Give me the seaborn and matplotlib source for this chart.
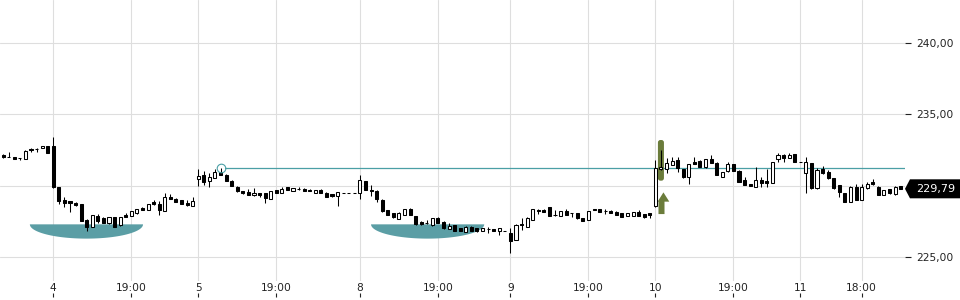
import numpy as np
import pandas as pd
import matplotlib
matplotlib.use("Agg")
import matplotlib.pyplot as plt
import seaborn as sns
from matplotlib.patches import Polygon, FancyBboxPatch

# ---------------- data ----------------
opens = [
    232.18, 232.03, 232.00, 231.93, 231.90, 232.60, 232.55, 232.65, 232.79, 232.79,
    229.90, 229.00, 228.91, 228.82, 228.72, 227.60, 227.13, 227.88, 227.74, 227.37,
    227.79, 227.23, 227.97, 227.88, 228.07, 228.44, 228.30, 228.86, 228.72, 228.25,
    229.24, 229.10, 229.00, 228.82, 228.58, 230.46, 230.74, 230.36, 230.55, 230.97,
    230.78, 230.36, 229.94, 229.61, 229.57, 229.33, 229.47, 229.47, 229.10, 229.71,
    229.52, 229.90, 229.66, 229.79, 229.80, 229.73, 229.52, 229.71, 229.52, 229.43,
    229.29, 229.52, 229.52, 229.52, 229.47, 230.32, 229.70, 229.66, 229.00, 228.30,
    228.07, 227.69, 227.95, 228.40, 227.88, 227.46, 227.37, 227.23, 227.72, 227.48,
    226.99, 227.23, 227.02, 226.78, 227.13, 227.04, 226.83, 226.96, 226.97, 226.81,
    226.85, 226.71, 226.22, 227.33, 227.13, 227.60, 228.28, 228.30, 228.49, 227.98,
    227.88, 228.25, 228.07, 228.07, 227.72, 227.60, 228.37, 228.35, 228.24, 228.25,
    228.18, 228.07, 227.88, 227.88, 228.18, 228.00, 228.07, 228.60, 231.16, 231.20,
    231.48, 231.81, 231.16, 230.60, 231.69, 231.76, 231.30, 231.90, 231.62, 230.64,
    231.02, 231.53, 231.06, 230.41, 230.13, 229.94, 230.41, 230.36, 230.22, 231.86,
    232.16, 231.95, 232.23, 231.70, 230.88, 231.58, 229.82, 231.18, 230.99, 230.53,
    230.06, 229.47, 228.89, 229.94, 229.00, 229.82, 230.24, 229.94, 229.36, 229.78,
    229.40, 230.00,
]
highs = [
    232.25, 232.39, 232.02, 231.95, 232.50, 232.62, 232.65, 232.80, 232.80, 233.44,
    229.90, 229.24, 228.95, 228.85, 228.75, 227.70, 227.95, 228.00, 227.80, 227.80,
    227.80, 227.80, 228.11, 228.22, 228.40, 228.50, 228.75, 229.00, 228.91, 229.52,
    229.43, 229.12, 229.02, 229.00, 229.24, 231.16, 231.06, 230.92, 231.16, 231.22,
    230.80, 230.38, 230.00, 229.62, 229.75, 229.85, 229.50, 229.50, 229.63, 229.73,
    229.90, 229.92, 229.87, 229.90, 229.82, 229.78, 229.72, 229.76, 229.55, 229.45,
    229.60, 229.52, 229.52, 229.52, 230.78, 230.35, 230.05, 229.70, 229.05, 228.32,
    228.10, 228.13, 228.37, 228.42, 227.90, 227.55, 227.60, 227.76, 227.80, 227.50,
    227.37, 227.25, 227.05, 227.15, 227.15, 227.06, 227.04, 227.13, 226.99, 227.06,
    226.85, 227.02, 227.32, 227.72, 227.83, 228.40, 228.40, 228.40, 228.55, 228.30,
    228.27, 228.37, 228.08, 228.10, 227.75, 228.27, 228.38, 228.37, 228.40, 228.30,
    228.20, 228.08, 228.08, 228.15, 228.30, 228.02, 228.10, 231.81, 232.51, 231.93,
    232.00, 232.00, 231.20, 231.55, 232.00, 231.80, 231.88, 232.14, 231.65, 231.00,
    231.70, 231.55, 231.10, 230.60, 230.15, 231.34, 230.60, 231.20, 231.70, 232.30,
    232.25, 232.32, 232.25, 231.70, 232.04, 231.60, 231.25, 231.40, 231.10, 230.55,
    230.08, 229.49, 229.96, 230.10, 230.10, 230.29, 230.45, 229.96, 229.73, 229.80,
    229.96, 230.02,
]
lows = [
    231.95, 232.00, 231.85, 231.80, 231.88, 232.35, 232.40, 232.64, 232.30, 229.82,
    228.72, 228.49, 228.16, 228.60, 227.50, 226.85, 227.10, 227.41, 227.40, 227.35,
    227.10, 227.20, 227.80, 227.85, 228.05, 228.28, 228.28, 228.65, 227.97, 228.25,
    229.08, 228.84, 228.70, 228.60, 228.56, 229.99, 230.04, 229.90, 230.53, 230.76,
    230.34, 229.97, 229.55, 229.45, 229.36, 229.30, 229.19, 228.82, 229.08, 229.50,
    229.50, 229.68, 229.64, 229.71, 229.64, 229.65, 229.50, 229.50, 229.20, 229.19,
    228.58, 229.52, 229.52, 229.52, 229.05, 229.68, 229.27, 228.89, 228.18, 227.95,
    227.77, 227.67, 227.93, 227.93, 227.28, 227.28, 227.34, 227.20, 227.38, 227.00,
    226.97, 226.83, 226.80, 226.76, 226.83, 226.79, 226.81, 226.71, 226.81, 226.55,
    226.85, 225.27, 226.20, 226.90, 227.10, 227.58, 228.00, 228.16, 227.86, 227.90,
    227.86, 227.95, 227.79, 227.70, 227.53, 227.58, 228.32, 228.16, 228.00, 228.10,
    227.93, 227.81, 227.86, 227.86, 227.86, 227.72, 227.75, 228.54, 231.10, 230.88,
    231.45, 230.95, 230.58, 230.13, 231.50, 231.32, 231.28, 231.60, 230.74, 230.62,
    231.00, 231.04, 230.27, 230.04, 229.97, 229.92, 229.95, 229.94, 230.20, 231.70,
    231.70, 231.93, 231.65, 231.70, 229.47, 229.75, 229.80, 230.86, 230.50, 229.80,
    229.24, 228.87, 228.87, 228.98, 228.98, 229.80, 230.08, 229.34, 229.34, 229.45,
    229.38, 229.77,
]
closes = [
    232.00, 232.05, 231.90, 231.93, 232.46, 232.48, 232.57, 232.79, 232.32, 229.90,
    228.96, 228.82, 228.77, 228.63, 227.55, 227.13, 227.93, 227.55, 227.41, 227.79,
    227.13, 227.79, 227.83, 228.21, 228.35, 228.30, 228.72, 228.72, 228.30, 229.19,
    229.10, 228.86, 228.72, 228.63, 228.95, 230.69, 230.27, 230.60, 230.97, 230.78,
    230.36, 229.99, 229.61, 229.47, 229.38, 229.52, 229.33, 229.15, 229.61, 229.52,
    229.80, 229.71, 229.85, 229.81, 229.66, 229.66, 229.71, 229.52, 229.24, 229.29,
    229.57, 229.52, 229.52, 229.52, 230.41, 229.71, 229.66, 229.10, 228.21, 227.97,
    227.79, 228.11, 228.35, 227.95, 227.30, 227.30, 227.36, 227.74, 227.41, 227.02,
    227.18, 226.85, 226.83, 227.13, 226.85, 226.81, 227.02, 226.98, 226.83, 227.04,
    226.85, 226.10, 227.28, 227.23, 227.72, 228.37, 228.22, 228.18, 227.88, 227.93,
    228.25, 227.97, 228.07, 227.72, 227.55, 228.25, 228.33, 228.18, 228.26, 228.11,
    227.95, 227.83, 228.07, 228.14, 227.88, 227.83, 227.95, 231.23, 231.34, 231.58,
    231.76, 231.23, 230.60, 231.53, 231.53, 231.34, 231.86, 231.62, 230.76, 230.99,
    231.53, 231.06, 230.29, 230.06, 229.99, 230.41, 230.18, 230.22, 231.67, 232.18,
    231.93, 232.18, 231.67, 231.70, 231.69, 229.82, 231.11, 230.88, 230.53, 229.82,
    229.59, 228.89, 229.94, 229.00, 229.94, 230.10, 230.10, 229.36, 229.71, 229.47,
    229.94, 229.79,
]

xtick_pos = [9, 23, 35, 49, 64, 78, 91, 105, 117, 131, 143, 154]
xtick_labels = ["4", "19:00", "5", "19:00", "8", "19:00", "9", "19:00",
                "10", "19:00", "11", "18:00"]
ytick_vals = [225, 235, 240]
ytick_labels = ["225,00", "235,00", "240,00"]
grid_extra = [230]

resistance_idx = 39
resistance_level = 231.22
bowl_spans = [(4.8, 25.1), (66.0, 86.3)]
bowl_top = 227.30
bowl_bottom = 226.30
signal_idx = 118
signal_bar_low, signal_bar_high = 230.36, 233.21
last_price_label = "229,79"

# ---------------- style ----------------
sns.set_theme(style="white")
plt.rcParams["font.family"] = ["DejaVu Sans"]

TEAL = "#4a9fa5"
BOWL = "#5b9ea5"
OLIVE = "#6b7c3b"
GRID = "#dedede"
TXT = "#222222"

df = pd.DataFrame({"o": opens, "h": highs, "l": lows, "c": closes})
df["i"] = np.arange(len(df))
df["up"] = df["c"] >= df["o"]
df["bottom"] = df[["o", "c"]].min(axis=1)
df["height"] = (df["c"] - df["o"]).abs()

fig = plt.figure(figsize=(9.6, 3.0), dpi=100)
fig.patch.set_facecolor("white")
ax = fig.add_axes([0, 19 / 300, 905 / 960, 281 / 300])
XLIM = (-0.556, 161.78)
ax.set_xlim(*XLIM)
ax.set_ylim(223.33, 243.02)

for s in ax.spines.values():
    s.set_visible(False)

ax.set_xticks(xtick_pos)
ax.set_xticklabels(xtick_labels)
ax.set_yticks(ytick_vals)
ax.set_yticklabels(ytick_labels)
ax.yaxis.tick_right()
ax.grid(True, color=GRID, lw=0.8)
ax.set_axisbelow(True)
for g in grid_extra:
    ax.axhline(g, color=GRID, lw=0.8, zorder=0.5)
ax.tick_params(axis="y", which="both", right=True, left=False, length=4,
               width=0.8, pad=4, labelsize=7.7, colors=TXT)
ax.tick_params(axis="x", length=0, pad=1.5, labelsize=7.7, colors=TXT)

# small tick marks at very bottom
ax2 = fig.add_axes([0, 3 / 300, 905 / 960, 0.0001])
ax2.set_xlim(*XLIM)
ax2.set_xticks(xtick_pos)
ax2.set_yticks([])
ax2.patch.set_visible(False)
for s in ax2.spines.values():
    s.set_visible(False)
ax2.tick_params(axis="x", direction="in", length=3, width=0.8, colors=TXT,
                labelbottom=False, bottom=True)

# rounding-bottom bowls
t = np.linspace(0, np.pi, 80)
for x0, x1 in bowl_spans:
    cx, hw = (x0 + x1) / 2, (x1 - x0) / 2
    xs = cx + hw * np.cos(t)
    ys = bowl_top - (bowl_top - bowl_bottom) * np.sin(t)
    ax.add_patch(Polygon(np.column_stack([xs, ys]), closed=True,
                         fc=BOWL, ec="none", zorder=1.5))

# resistance line and circle
sns.lineplot(x=[resistance_idx + 0.8, XLIM[1]], y=[resistance_level] * 2,
             ax=ax, color=TEAL, lw=0.9, zorder=2)
ax.plot([resistance_idx], [resistance_level], marker="o", ms=6.2, mfc="none",
        mec=TEAL, mew=0.8, zorder=6)

# signal bar & arrow
ax.add_patch(FancyBboxPatch((signal_idx - 0.54, signal_bar_low), 1.08,
                            signal_bar_high - signal_bar_low,
                            boxstyle="round,pad=0,rounding_size=0.45",
                            mutation_aspect=5.575 / 14.27,
                            fc=OLIVE, ec="none", zorder=2.8))
s = signal_idx
arrow = [(s - 0.44, 228.02), (s + 0.64, 228.02), (s + 0.64, 228.89),
         (s + 1.5, 228.89), (s + 0.45, 229.54), (s - 0.6, 228.89),
         (s - 0.44, 228.89)]
ax.add_patch(Polygon(arrow, closed=True, fc=OLIVE, ec="none", zorder=2.8))

# candles
ax.vlines(df["i"], df["l"], df["h"], color="black", lw=0.75, zorder=3)
ax.bar(df["i"], df["height"], bottom=df["bottom"], width=0.55,
       color=np.where(df["up"], "white", "black"), edgecolor="black",
       linewidth=0.75, zorder=4)

# last price label
trans = ax.get_yaxis_transform()
c = closes[-1]
hh = 0.666
lab = Polygon([(1.0, c), (1.0055, c + hh), (1.0608, c + hh), (1.0608, c - hh),
               (1.0055, c - hh)], closed=True, transform=trans, fc="black",
              ec="none", clip_on=False, zorder=10)
ax.add_patch(lab)
ax.text(1.0118, c, last_price_label, transform=trans, color="white",
        fontsize=8, va="center", ha="left", clip_on=False, zorder=11)

fig.savefig("out.png", dpi=100, facecolor="white")
